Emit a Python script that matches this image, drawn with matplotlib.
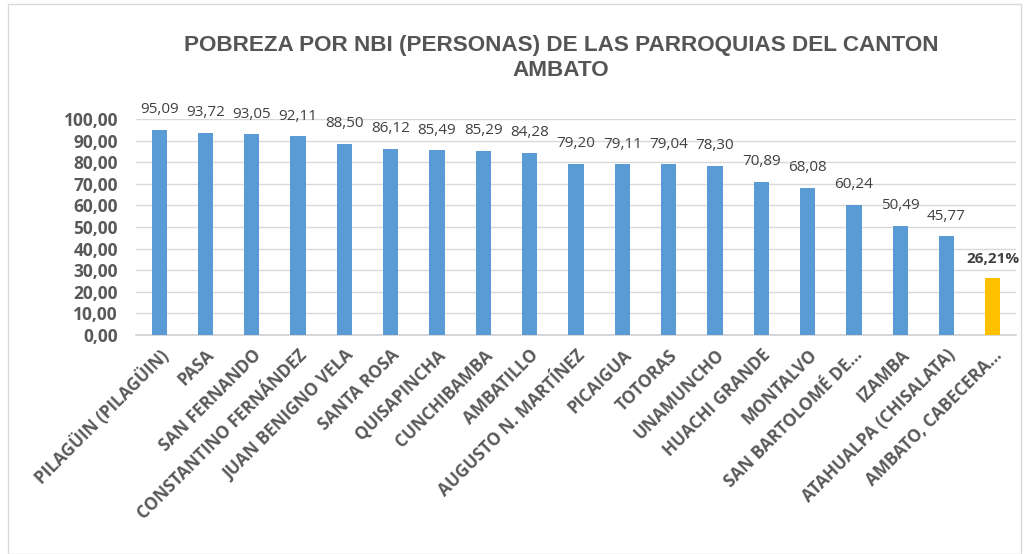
import matplotlib.pyplot as plt
from matplotlib.patches import Rectangle

parroquias = ['PILAGÜIN (PILAGÜIN)', 'PASA', 'SAN FERNANDO', 'CONSTANTINO FERNÁNDEZ',
              'JUAN BENIGNO VELA', 'SANTA ROSA', 'QUISAPINCHA', 'CUNCHIBAMBA',
              'AMBATILLO', 'AUGUSTO N. MARTÍNEZ', 'PICAIGUA', 'TOTORAS', 'UNAMUNCHO',
              'HUACHI GRANDE', 'MONTALVO', 'SAN BARTOLOMÉ DE...', 'IZAMBA',
              'ATAHUALPA (CHISALATA)', 'AMBATO, CABECERA...']
pobreza = [95.09, 93.72, 93.05, 92.11, 88.50, 86.12, 85.49, 85.29, 84.28, 79.20,
           79.11, 79.04, 78.30, 70.89, 68.08, 60.24, 50.49, 45.77, 26.21]
yticks = [0, 10, 20, 30, 40, 50, 60, 70, 80, 90, 100]

plt.rcParams['font.family'] = ['Open Sans', 'DejaVu Sans']
gray = '#595959'

fig = plt.figure(figsize=(10.29, 5.54), dpi=100)
ax = fig.add_axes([136/1029, 1-335/554, 880/1029, 216/554])

colors = ['#5B9BD5'] * (len(pobreza) - 1) + ['#FFC000']
x = range(len(pobreza))
ax.bar(x, pobreza, width=0.33, color=colors, zorder=3)

for i, v in enumerate(pobreza):
    txt = f'{v:.2f}'.replace('.', ',')
    if i == len(pobreza) - 1:
        ax.annotate(txt + '%', (i, v), xytext=(0, 9), textcoords='offset points',
                    ha='center', va='bottom', fontsize=11, fontweight='bold',
                    color='#404040', annotation_clip=False)
    else:
        ax.annotate(txt, (i, v), xytext=(0, 9), textcoords='offset points',
                    ha='center', va='bottom', fontsize=11, color='#404040',
                    annotation_clip=False)

ax.set_xlim(-0.5, len(pobreza) - 0.5)
ax.set_ylim(0, 100)
ax.set_yticks(yticks)
ax.set_yticklabels([f'{t:.2f}'.replace('.', ',') for t in yticks],
                   fontsize=12.5, fontweight='bold', color=gray)
ax.set_xticks(list(x))
ax.set_xticklabels(parroquias, rotation=45, ha='right', rotation_mode='anchor',
                   fontsize=12.3, fontweight='bold', color=gray)
ax.tick_params(axis='y', length=0, pad=13)
ax.tick_params(axis='x', length=0, pad=8)
ax.grid(axis='y', color='#d9d9d9', linewidth=1, zorder=0)
for s in ['top', 'right', 'left']:
    ax.spines[s].set_visible(False)
ax.spines['bottom'].set_color('#d0d0d0')
ax.spines['bottom'].set_linewidth(1.2)

fig.text(0.545, 1-58/554, 'POBREZA POR NBI (PERSONAS) DE LAS PARROQUIAS DEL CANTON\nAMBATO',
         ha='center', va='center', fontsize=16.2, fontweight='bold', color='#555555',
         family='Liberation Sans', linespacing=1.25)

fig.patches.append(Rectangle((8/1029, 0.0), 1 - 16/1029, 1 - 4/554, transform=fig.transFigure,
                             fill=False, edgecolor='#d9d9d9', linewidth=1))

fig.savefig('out.png', dpi=100)
